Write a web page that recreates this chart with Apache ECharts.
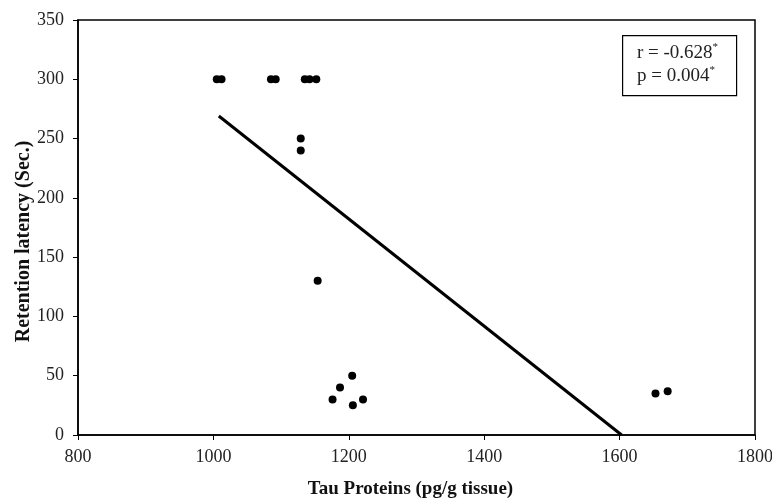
<!DOCTYPE html>
<html><head><meta charset="utf-8">
<script src="https://cdn.jsdelivr.net/npm/echarts@6/dist/echarts.min.js"></script>
<style>html,body{margin:0;padding:0;background:#fff}#c{width:772px;height:500px}</style>
</head><body><div id="c"></div>
<script>
const tauX = [1005, 1012, 1085, 1092, 1135, 1142, 1152, 1129, 1129, 1154, 1205, 1187, 1176, 1206, 1221, 1653, 1671];
const latencyY = [300, 300, 300, 300, 300, 300, 300, 250, 240, 130, 50, 40, 30, 25, 30, 35, 37];
const trendX = [1008, 1603];
const trendY = [269, 0];
const xTicks = [800, 1000, 1200, 1400, 1600, 1800];
const yTicks = [0, 50, 100, 150, 200, 250, 300, 350];
const statLines = ['r = -0.628', 'p = 0.004'];

const font = '"Liberation Serif", "Times New Roman", serif';
const chart = echarts.init(document.getElementById('c'));
chart.setOption({
  animation: false,
  backgroundColor: '#fff',
  grid: { left: 78, right: 17, top: 20, bottom: 65, show: true, borderColor: '#000', borderWidth: 1.5,
          containLabel: false, outerBoundsMode: 'none' },
  xAxis: {
    type: 'value', min: xTicks[0], max: xTicks[xTicks.length - 1], interval: 200,
    name: 'Tau Proteins (pg/g tissue)', nameLocation: 'middle', nameGap: 45, nameMoveOverlap: false,
    nameTextStyle: { fontFamily: font, fontSize: 19, fontWeight: 'bold', color: '#111', padding: [0, 12, 0, 0] },
    axisLine: { lineStyle: { color: '#000', width: 1.5 } },
    axisTick: { show: true, length: 5, lineStyle: { color: '#000' } },
    axisLabel: { fontFamily: font, fontSize: 18, color: '#222', margin: 13, formatter: v => String(v) },
    splitLine: { show: false }
  },
  yAxis: {
    type: 'value', min: yTicks[0], max: yTicks[yTicks.length - 1], interval: 50,
    name: 'Retention latency (Sec.)', nameLocation: 'middle', nameGap: 44, nameMoveOverlap: false,
    nameTextStyle: { fontFamily: font, fontSize: 20, fontWeight: 'bold', color: '#111', padding: [0, 28, 0, 0] },
    axisLine: { show: true, lineStyle: { color: '#000', width: 1.5 } },
    axisTick: { show: true, length: 5, lineStyle: { color: '#000' } },
    axisLabel: { fontFamily: font, fontSize: 18, color: '#222', margin: 14, formatter: v => String(v) },
    splitLine: { show: false }
  },
  series: [
    {
      type: 'scatter', symbol: 'circle', symbolSize: 8,
      itemStyle: { color: '#000', opacity: 1 },
      data: tauX.map((x, i) => [x, latencyY[i]])
    },
    {
      type: 'line', symbol: 'none', silent: true,
      lineStyle: { color: '#000', width: 3 },
      data: trendX.map((x, i) => [x, trendY[i]])
    }
  ],
  graphic: [
    {
      type: 'rect', left: 622, top: 35,
      shape: { width: 114, height: 60 },
      style: { fill: '#fff', stroke: '#000', lineWidth: 1.2 }
    },
    {
      type: 'text', left: 637, top: 42,
      style: {
        text: '{t|' + statLines[0] + '}{s|*}\n{t|' + statLines[1] + '}{s|*}',
        rich: {
          t: { fontFamily: font, fontSize: 19, fill: '#222', lineHeight: 23 },
          s: { fontFamily: font, fontSize: 11, fill: '#222', verticalAlign: 'top', lineHeight: 23 }
        }
      }
    }
  ]
});
</script></body></html>
